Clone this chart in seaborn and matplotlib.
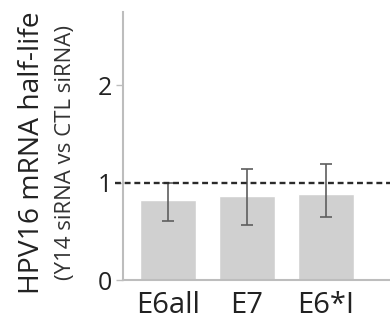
import matplotlib
matplotlib.use("Agg")
import matplotlib.pyplot as plt
import seaborn as sns
import pandas as pd

categories = ["E6all", "E7", "E6*I"]
values = [0.82, 0.86, 0.88]
err_low = [0.61, 0.56, 0.65]
err_high = [1.00, 1.14, 1.19]
yticks = [0, 1, 2]
ylabel1 = "HPV16 mRNA half-life"
ylabel2 = "(Y14 siRNA vs CTL siRNA)"

sns.set_theme(style="white")
plt.rcParams["font.family"] = ["Open Sans", "DejaVu Sans"]

df = pd.DataFrame({"cat": categories, "val": values})

fig = plt.figure(figsize=(3.9, 3.27), dpi=100)
ax = fig.add_axes([0.315, 0.1437, 0.685, 0.8193])

sns.barplot(data=df, x="cat", y="val", color="#d0d0d0", saturation=1,
            width=0.71, errorbar=None, ax=ax)

xs = list(range(len(categories)))
yerr = [[v - lo for v, lo in zip(values, err_low)],
        [hi - v for v, hi in zip(values, err_high)]]
ax.errorbar(xs, values, yerr=yerr, fmt="none", ecolor="#5e5e5e",
            elinewidth=1.2, capsize=4, capthick=1.2)

ax.axhline(1.0, color="#2a2a2a", lw=1.7, ls=(0, (2.5, 1.6)), xmin=-0.03, clip_on=False, zorder=5)

ax.set_xlim(-0.57, 2.81)
ax.set_ylim(0, 2.75)
ax.set_yticks(yticks)
ax.set_yticklabels([str(t) for t in yticks])
ax.set_xlabel("")
ax.set_ylabel("")

for s in ["top", "right"]:
    ax.spines[s].set_visible(False)
for s in ["left", "bottom"]:
    ax.spines[s].set_color("#bdbdbd")
    ax.spines[s].set_linewidth(1.5)

ax.tick_params(axis="y", length=5, width=1, color="#bdbdbd", labelsize=18,
               labelcolor="#222222", pad=3, left=True)
ax.tick_params(axis="x", length=0, labelsize=21, labelcolor="#222222", pad=8)

fig.text(0.082, 0.534, ylabel1, rotation=90, ha="center", va="center",
         fontsize=20.3, color="#222222")
fig.text(0.167, 0.534, ylabel2, rotation=90, ha="center", va="center",
         fontsize=16, color="#333333")

fig.savefig("out.png", dpi=100)
